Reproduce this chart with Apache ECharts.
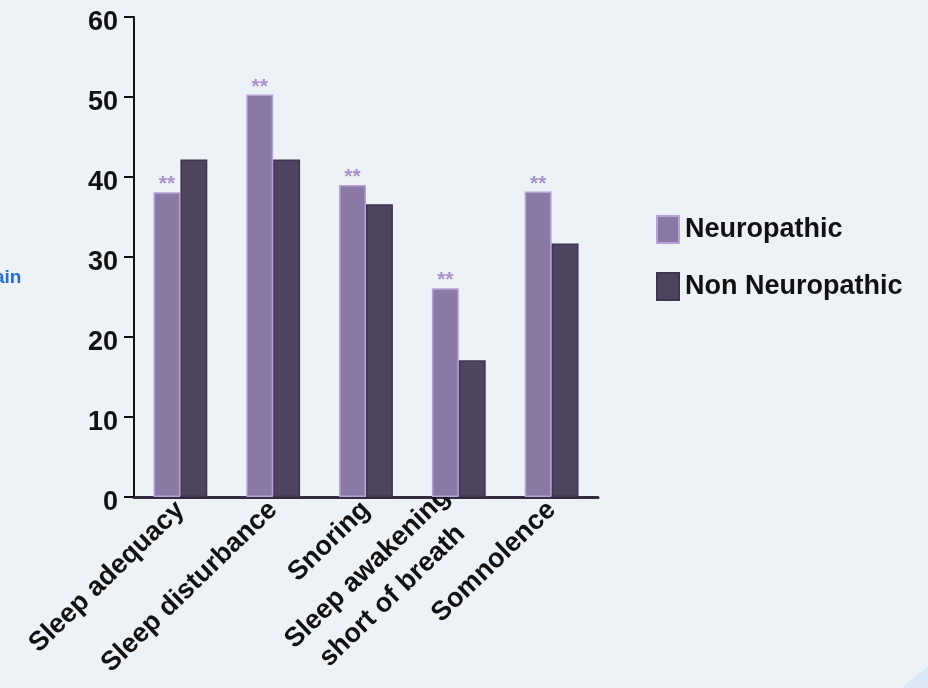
<!DOCTYPE html>
<html>
<head>
<meta charset="utf-8">
<script src="https://cdn.jsdelivr.net/npm/echarts@6/dist/echarts.min.js"></script>
<style>
  html, body { margin: 0; padding: 0; background: #edf2f6; }
  #chart { width: 928px; height: 688px; }
</style>
</head>
<body>
<div id="chart"></div>
<script>
// Sleep problems reported by patients, in percent
const categories = ['Sleep adequacy', 'Sleep disturbance', 'Snoring', 'Sleep awakening\nshort of breath  ', 'Somnolence'];
const neuropathic = [38.1, 50.3, 39.0, 26.1, 38.2];
const nonNeuropathic = [42.2, 42.2, 36.6, 17.1, 31.7];
const significance = ['**', '**', '**', '**', '**'];
const yTicks = { min: 0, max: 60, interval: 10 };

const chart = echarts.init(document.getElementById('chart'));
const font = '"Liberation Sans", Arial, sans-serif';

chart.setOption({
  backgroundColor: '#edf2f6',
  textStyle: { fontFamily: font },
  animation: false,
  grid: { left: 134, right: 330, top: 17, bottom: 191 },
  legend: {
    orient: 'vertical',
    left: 651,
    top: 210,
    itemWidth: 22,
    itemHeight: 27,
    itemGap: 28,
    icon: 'rect',
    textStyle: { fontFamily: font, fontSize: 27, fontWeight: 'bold', color: '#111', padding: [0, 0, 0, 1] },
    data: ['Neuropathic', 'Non Neuropathic']
  },
  graphic: [
    {
      type: 'text', left: -6, top: 268,
      style: { text: 'ain', fill: '#1f6fd1', font: 'bold 19px ' + font }
    },
    {
      type: 'circle', shape: { cx: 1100, cy: 900, r: 290 },
      style: { fill: '#dce8f4' }, z: -1, silent: true
    }
  ],
  xAxis: {
    type: 'category',
    data: categories,
    axisLine: { lineStyle: { color: '#342c3f', width: 3 } },
    axisTick: { show: false },
    axisLabel: {
      interval: 0, rotate: 44, margin: 9,
      fontFamily: font, fontSize: 27, fontWeight: 'bold', color: '#111', lineHeight: 37
    }
  },
  yAxis: {
    type: 'value',
    min: yTicks.min, max: yTicks.max, interval: yTicks.interval,
    splitLine: { show: false },
    axisLine: { show: true, lineStyle: { color: '#111', width: 2 } },
    axisTick: { show: true, length: 10, lineStyle: { color: '#111', width: 2 } },
    axisLabel: {
      margin: 16, fontFamily: font, fontSize: 27, fontWeight: 'bold', color: '#111',
      verticalAlign: 'top', lineHeight: 12
    }
  },
  series: [
    {
      name: 'Neuropathic',
      type: 'bar',
      data: neuropathic,
      barGap: '0%',
      barCategoryGap: '42%',
      itemStyle: { color: '#8a79a4', borderColor: '#b6a2d8', borderWidth: 1.5 },
      label: {
        show: true, position: 'top', distance: -3,
        formatter: p => significance[p.dataIndex],
        fontFamily: font, fontSize: 21, fontWeight: 'bold', color: '#a890cc'
      }
    },
    {
      name: 'Non Neuropathic',
      type: 'bar',
      data: nonNeuropathic,
      itemStyle: { color: '#4f4460', borderColor: '#3f354f', borderWidth: 1.5 }
    }
  ]
});
</script>
</body>
</html>
